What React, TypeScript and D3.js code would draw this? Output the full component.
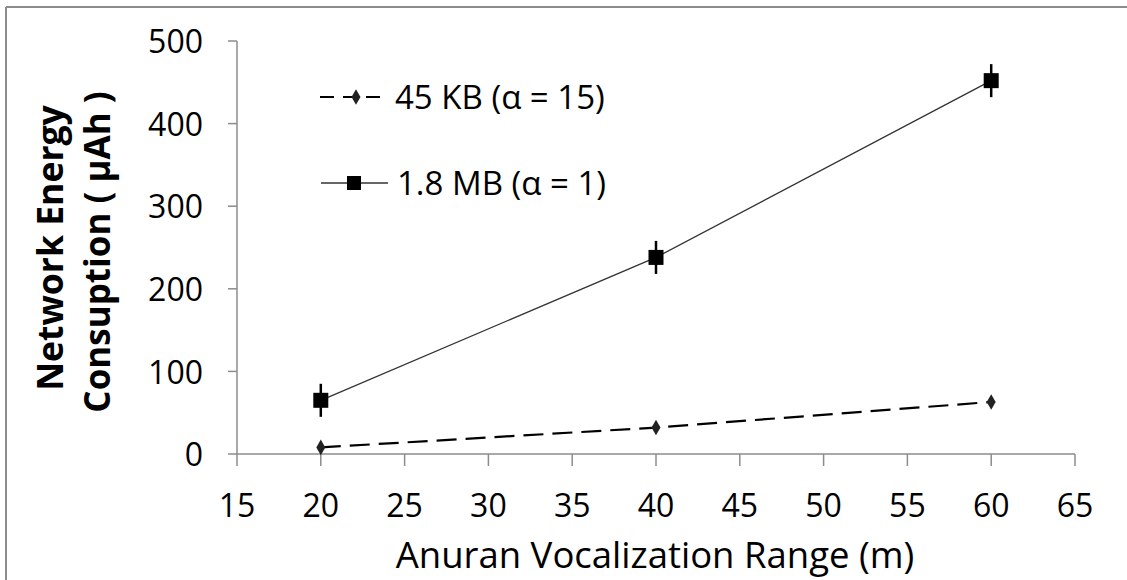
import React from "react";
import * as d3 from "d3";

const xValues = [20, 40, 60];
const seriesKB = [8, 32, 63];
const seriesKBErr = [4, 4, 4];
const seriesMB = [65, 238, 452];
const seriesMBErr = [20, 20, 20];
const xTicks = [15, 20, 25, 30, 35, 40, 45, 50, 55, 60, 65];
const yTicks = [0, 100, 200, 300, 400, 500];
const legendLabels = ["45 KB (\u03b1 = 15)", "1.8 MB (\u03b1 = 1)"];

const W = 1127;
const H = 580;
const FONT = "'Open Sans', 'Noto Sans', sans-serif";

export default function App() {
  const x = d3.scaleLinear().domain([15, 65]).range([237, 1075]);
  const y = d3.scaleLinear().domain([0, 500]).range([454, 41]);
  const line = d3
    .line<number>()
    .x((_, i) => x(xValues[i]))
    .y((d) => y(d));
  const axisColor = "#8c8c8c";
  const diamond = d3.symbol().type(d3.symbolDiamond).size(70)();

  return (
    <svg
      width={W}
      height={H}
      style={{ position: "absolute", left: 0, top: 0, background: "#fff", overflow: "hidden" }}
    >
      <rect x={0} y={0} width={W} height={H} fill="#fff" />
      <line x1={6} x2={W} y1={7} y2={7} stroke="#8c8c8c" strokeWidth={2} />
      <line x1={6} x2={6} y1={7} y2={H} stroke="#8c8c8c" strokeWidth={2} />

      {/* axes */}
      <line x1={x(15)} x2={x(15)} y1={y(500)} y2={y(0)} stroke={axisColor} strokeWidth={1.5} />
      <line x1={x(15)} x2={x(65)} y1={y(0)} y2={y(0)} stroke={axisColor} strokeWidth={1.5} />
      {yTicks.map((t) => (
        <g key={"y" + t}>
          <line x1={x(15) - 9} x2={x(15)} y1={y(t)} y2={y(t)} stroke={axisColor} strokeWidth={1.5} />
          <text
            x={203}
            y={y(t)}
            dy="0.38em"
            textAnchor="end"
            fontFamily={FONT}
            fontSize={32}
            fill="#000"
          >
            {t}
          </text>
        </g>
      ))}
      {xTicks.map((t) => (
        <g key={"x" + t}>
          <line x1={x(t)} x2={x(t)} y1={y(0)} y2={y(0) + 12} stroke={axisColor} strokeWidth={1.5} />
          <text
            x={x(t)}
            y={517}
            textAnchor="middle"
            fontFamily={FONT}
            fontSize={32}
            fill="#000"
          >
            {t}
          </text>
        </g>
      ))}

      {/* axis titles */}
      <text
        x={655}
        y={568}
        textAnchor="middle"
        fontFamily={FONT}
        fontSize={36.5}
        fill="#000"
      >
        Anuran Vocalization Range (m)
      </text>
      <g transform="translate(63,248) rotate(-90)">
        <text x={0} y={0} textAnchor="middle" fontFamily={FONT} fontWeight="bold" fontSize={35.5} fill="#000">
          Network Energy
        </text>
      </g>
      <g transform="translate(110,252) rotate(-90)">
        <text x={0} y={0} textAnchor="middle" fontFamily={FONT} fontWeight="bold" fontSize={35} fill="#000">
          Consuption ( µAh )
        </text>
      </g>

      {/* 1.8 MB series */}
      <path d={line(seriesMB) || ""} fill="none" stroke="#333" strokeWidth={1.3} />
      {seriesMB.map((v, i) => (
        <g key={"mb" + i}>
          <line
            x1={x(xValues[i])}
            x2={x(xValues[i])}
            y1={y(v + seriesMBErr[i])}
            y2={y(v - seriesMBErr[i])}
            stroke="#000"
            strokeWidth={2.5}
          />
          <rect x={x(xValues[i]) - 7.5} y={y(v) - 7.5} width={15} height={15} fill="#000" />
        </g>
      ))}

      {/* 45 KB series */}
      <path
        d={line(seriesKB) || ""}
        fill="none"
        stroke="#000"
        strokeWidth={2.2}
        strokeDasharray="20 9"
      />
      {seriesKB.map((v, i) => (
        <g key={"kb" + i}>
          <line
            x1={x(xValues[i])}
            x2={x(xValues[i])}
            y1={y(v + seriesKBErr[i])}
            y2={y(v - seriesKBErr[i])}
            stroke="#000"
            strokeWidth={2}
          />
          <path d={diamond || ""} transform={`translate(${x(xValues[i])},${y(v)})`} fill="#222" />
        </g>
      ))}

      {/* legend */}
      <g>
        <line x1={320} x2={388} y1={97} y2={97} stroke="#000" strokeWidth={2} strokeDasharray="14 9" />
        <path d={diamond || ""} transform="translate(356,97)" fill="#222" />
        <text x={395} y={97} dy="0.36em" fontFamily={FONT} fontSize={33} fill="#000">
          {legendLabels[0]}
        </text>
        <line x1={321} x2={388} y1={183} y2={183} stroke="#333" strokeWidth={1.3} />
        <rect x={347} y={176} width={14} height={14} fill="#000" />
        <text x={397} y={183} dy="0.36em" fontFamily={FONT} fontSize={33} fill="#000">
          {legendLabels[1]}
        </text>
      </g>
    </svg>
  );
}
